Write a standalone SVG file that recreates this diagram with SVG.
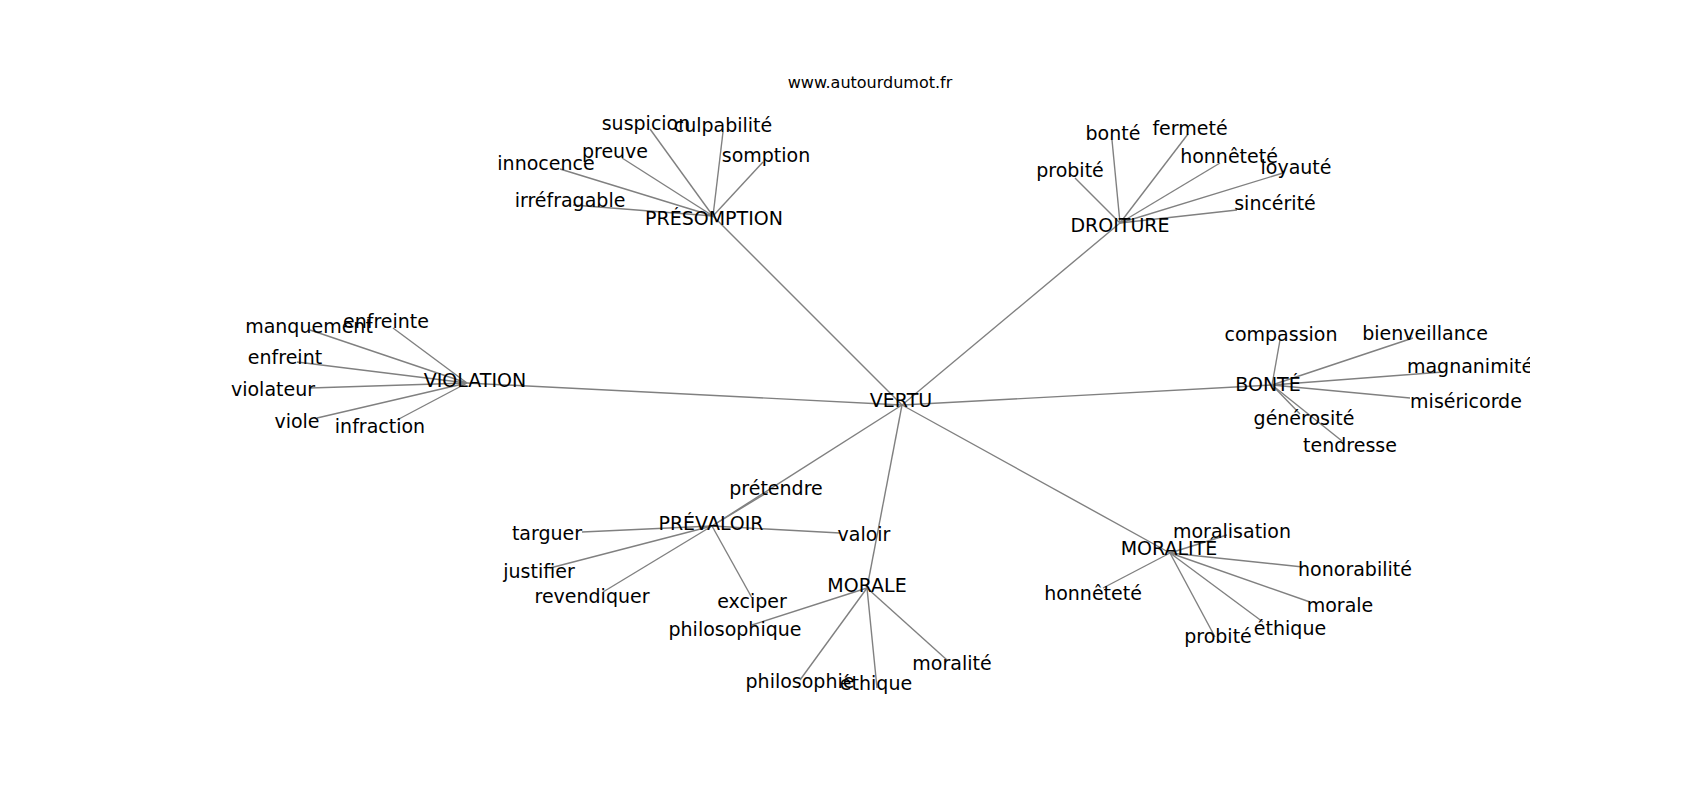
<svg xmlns="http://www.w3.org/2000/svg" width="1700" height="800" viewBox="0 0 1700 800">
<style>
  text { font-family: "DejaVu Sans", "Liberation Sans", sans-serif; font-size: 19px; fill: #000; text-anchor: middle; }
  .title { font-size: 16px; }
  #edges line { stroke: #808080; stroke-width: 1.4; }
</style>
<defs>
  <clipPath id="ax"><rect x="212" y="96" width="1318" height="616"/></clipPath>
</defs>
<rect width="1700" height="800" fill="#fff"/>
<text class="title" x="870" y="88">www.autourdumot.fr</text>
<g clip-path="url(#ax)">
<g id="edges">
  <line x1="902" y1="405" x2="713" y2="216"/>
  <line x1="902" y1="405" x2="1120" y2="223"/>
  <line x1="902" y1="405" x2="467" y2="383"/>
  <line x1="902" y1="405" x2="1272" y2="385"/>
  <line x1="902" y1="405" x2="712" y2="526"/>
  <line x1="902" y1="405" x2="867" y2="588"/>
  <line x1="902" y1="405" x2="1170" y2="553"/>
  <line x1="713" y1="216" x2="650" y2="129"/>
  <line x1="713" y1="216" x2="723" y2="132"/>
  <line x1="713" y1="216" x2="622" y2="158"/>
  <line x1="713" y1="216" x2="560" y2="169"/>
  <line x1="713" y1="216" x2="573" y2="205"/>
  <line x1="713" y1="216" x2="763" y2="162"/>
  <line x1="1120" y1="223" x2="1112" y2="140"/>
  <line x1="1120" y1="223" x2="1188" y2="134"/>
  <line x1="1120" y1="223" x2="1220" y2="163"/>
  <line x1="1120" y1="223" x2="1075" y2="178"/>
  <line x1="1120" y1="223" x2="1283" y2="173"/>
  <line x1="1120" y1="223" x2="1237" y2="210"/>
  <line x1="467" y1="383" x2="310" y2="330"/>
  <line x1="467" y1="383" x2="393" y2="328"/>
  <line x1="467" y1="383" x2="297" y2="362"/>
  <line x1="467" y1="383" x2="310" y2="388"/>
  <line x1="467" y1="383" x2="317" y2="418"/>
  <line x1="467" y1="383" x2="397" y2="420"/>
  <line x1="1272" y1="385" x2="1280" y2="340"/>
  <line x1="1272" y1="385" x2="1413" y2="338"/>
  <line x1="1272" y1="385" x2="1443" y2="372"/>
  <line x1="1272" y1="385" x2="1410" y2="398"/>
  <line x1="1272" y1="385" x2="1300" y2="414"/>
  <line x1="1272" y1="385" x2="1342" y2="441"/>
  <line x1="712" y1="526" x2="768" y2="492"/>
  <line x1="712" y1="526" x2="582" y2="532"/>
  <line x1="712" y1="526" x2="840" y2="533"/>
  <line x1="712" y1="526" x2="550" y2="568"/>
  <line x1="712" y1="526" x2="603" y2="592"/>
  <line x1="712" y1="526" x2="752" y2="598"/>
  <line x1="867" y1="588" x2="752" y2="625"/>
  <line x1="867" y1="588" x2="800" y2="680"/>
  <line x1="867" y1="588" x2="877" y2="688"/>
  <line x1="867" y1="588" x2="947" y2="660"/>
  <line x1="1170" y1="553" x2="1227" y2="535"/>
  <line x1="1170" y1="553" x2="1303" y2="567"/>
  <line x1="1170" y1="553" x2="1103" y2="588"/>
  <line x1="1170" y1="553" x2="1310" y2="602"/>
  <line x1="1170" y1="553" x2="1263" y2="622"/>
  <line x1="1170" y1="553" x2="1215" y2="637"/>
</g>
<g id="n-vertu"><text x="901" y="407">VERTU</text></g>
<g id="n-presomption"><text x="714" y="225">PRÉSOMPTION</text></g>
<g id="n-droiture"><text x="1120" y="232">DROITURE</text></g>
<g id="n-violation"><text x="475" y="387">VIOLATION</text></g>
<g id="n-bonte"><text x="1268" y="391">BONTÉ</text></g>
<g id="n-prevaloir"><text x="711" y="530">PRÉVALOIR</text></g>
<g id="n-morale"><text x="867" y="592">MORALE</text></g>
<g id="n-moralite"><text x="1169" y="555">MORALITÉ</text></g>
<g id="n-suspicion"><text x="646" y="130">suspicion</text></g>
<g id="n-culpabilite"><text x="723" y="132">culpabilité</text></g>
<g id="n-preuve"><text x="615" y="158">preuve</text></g>
<g id="n-innocence"><text x="546" y="170">innocence</text></g>
<g id="n-irrefragable"><text x="570" y="207">irréfragable</text></g>
<g id="n-somption"><text x="766" y="162">somption</text></g>
<g id="n-bonte2"><text x="1113" y="140">bonté</text></g>
<g id="n-fermete"><text x="1190" y="135">fermeté</text></g>
<g id="n-honnetete"><text x="1229" y="163">honnêteté</text></g>
<g id="n-probite"><text x="1070" y="177">probité</text></g>
<g id="n-loyaute"><text x="1296" y="174">loyauté</text></g>
<g id="n-sincerite"><text x="1275" y="210">sincérité</text></g>
<g id="n-manquement"><text x="309" y="333">manquement</text></g>
<g id="n-enfreinte"><text x="386" y="328">enfreinte</text></g>
<g id="n-enfreint"><text x="285" y="364">enfreint</text></g>
<g id="n-violateur"><text x="273" y="396">violateur</text></g>
<g id="n-viole"><text x="297" y="428">viole</text></g>
<g id="n-infraction"><text x="380" y="433">infraction</text></g>
<g id="n-compassion"><text x="1281" y="341">compassion</text></g>
<g id="n-bienveillance"><text x="1425" y="340">bienveillance</text></g>
<g id="n-magnanimite"><text x="1470" y="373">magnanimité</text></g>
<g id="n-misericorde"><text x="1466" y="408">miséricorde</text></g>
<g id="n-generosite"><text x="1304" y="425">générosité</text></g>
<g id="n-tendresse"><text x="1350" y="452">tendresse</text></g>
<g id="n-pretendre"><text x="776" y="495">prétendre</text></g>
<g id="n-targuer"><text x="547" y="540">targuer</text></g>
<g id="n-valoir"><text x="864" y="541">valoir</text></g>
<g id="n-justifier"><text x="539" y="578">justifier</text></g>
<g id="n-revendiquer"><text x="592" y="603">revendiquer</text></g>
<g id="n-exciper"><text x="752" y="608">exciper</text></g>
<g id="n-philosophique"><text x="735" y="636">philosophique</text></g>
<g id="n-philosophie"><text x="800" y="688">philosophie</text></g>
<g id="n-ethique"><text x="876" y="690">éthique</text></g>
<g id="n-moralite2"><text x="952" y="670">moralité</text></g>
<g id="n-moralisation"><text x="1232" y="538">moralisation</text></g>
<g id="n-honorabilite"><text x="1355" y="576">honorabilité</text></g>
<g id="n-honnetete2"><text x="1093" y="600">honnêteté</text></g>
<g id="n-morale2"><text x="1340" y="612">morale</text></g>
<g id="n-ethique2"><text x="1290" y="635">éthique</text></g>
<g id="n-probite2"><text x="1218" y="643">probité</text></g>
</g>
</svg>
